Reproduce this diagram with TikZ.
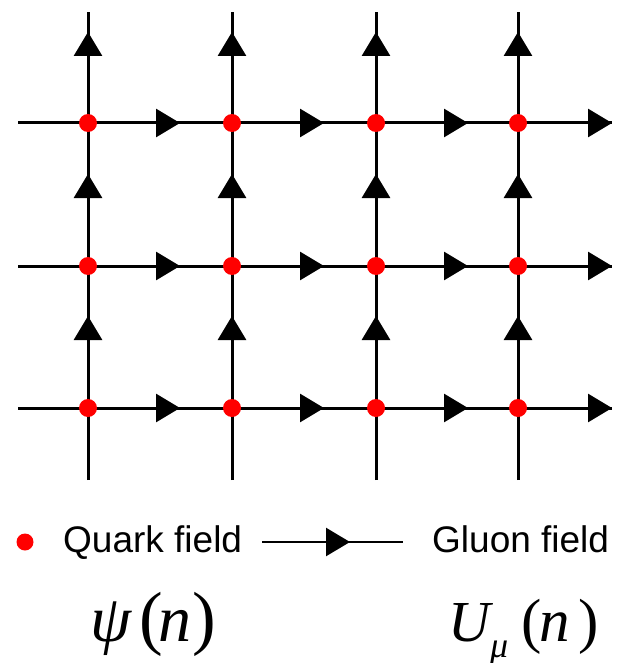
\documentclass[tikz,border=0pt]{standalone}
\usepackage{fontspec}
\setmainfont{Liberation Serif}
\newfontfamily\arialfont{Liberation Sans}
\usetikzlibrary{arrows.meta,decorations.markings}
\tikzset{
  link/.style={line width=3pt, draw=black},
  tipat/.style={postaction={decorate,decoration={markings,
      mark=at position #1 with {\arrow{Triangle[length=24pt,width=28pt]}}}}},
  site/.style={circle,fill=red,draw=none,inner sep=0pt,minimum size=18pt},
  legtext/.style={anchor=base west,inner sep=0pt,font=\arialfont\fontsize{37}{44}\selectfont},
  formula/.style={anchor=base west,inner sep=0pt},
}
\begin{document}
\begin{tikzpicture}[x=1pt,y=-1pt]
\useasboundingbox (0,0) rectangle (621,663);
% lattice coordinates
\foreach \c/\x in {1/88,2/232,3/376,4/518}{
  \foreach \r/\y in {1/123,2/266,3/408}{
    \coordinate (p\c\r) at (\x,\y);
  }
  \coordinate (top\c) at (\x,12);
  \coordinate (bot\c) at (\x,480);
}
\foreach \r/\y in {1/123,2/266,3/408}{
  \coordinate (left\r) at (18,\y);
  \coordinate (right\r) at (612,\y);
}
% horizontal links
\foreach \r in {1,2,3}{
  \draw[link] (left\r) -- (p1\r);
  \draw[link,tipat=92pt] (p1\r) -- (p2\r);
  \draw[link,tipat=92pt] (p2\r) -- (p3\r);
  \draw[link,tipat=92pt] (p3\r) -- (p4\r);
  \draw[link,tipat=94pt] (p4\r) -- (right\r);
}
% vertical links
\foreach \c in {1,2,3,4}{
  \draw[link] (bot\c) -- (p\c3);
  \draw[link,tipat=92pt] (p\c3) -- (p\c2);
  \draw[link,tipat=92pt] (p\c2) -- (p\c1);
  \draw[link,tipat=91pt] (p\c1) -- (top\c);
}
% sites
\foreach \c in {1,2,3,4}{
  \foreach \r in {1,2,3}{
    \node[site] (s\c\r) at (p\c\r) {};
  }
}
% legend
\node[site,minimum size=17pt] (qdot) at (25,542) {};
\node[legtext] (qtext) at (63,552) {Quark field};
\coordinate (ga) at (262,542);
\coordinate (gb) at (403,542);
\draw[line width=2.5pt,tipat=88pt] (ga) -- (gb);
\node[legtext] (gtext) at (432,552) {Gluon field};
% formulas
\node[formula,font=\fontsize{66}{70}\selectfont\itshape] (psi) at (90,641) {ψ};
\node[formula,font=\fontsize{71}{74}\selectfont] (pl) at (139,641) {(};
\node[formula,font=\fontsize{66}{70}\selectfont\itshape] (pn) at (158,641) {n};
\node[formula,font=\fontsize{71}{74}\selectfont] (pr) at (192,641) {)};
\node[formula,font=\fontsize{58}{64}\selectfont\itshape] (U) at (448,641) {U};
\node[formula,font=\fontsize{36}{40}\selectfont\itshape] (mu) at (490,657) {μ};
\node[formula,font=\fontsize{61}{64}\selectfont] (ul) at (521,641) {(};
\node[formula,font=\fontsize{61}{64}\selectfont\itshape] (un) at (539,641) {n};
\node[formula,font=\fontsize{61}{64}\selectfont] (ur) at (578,641) {)};
\end{tikzpicture}
\end{document}
